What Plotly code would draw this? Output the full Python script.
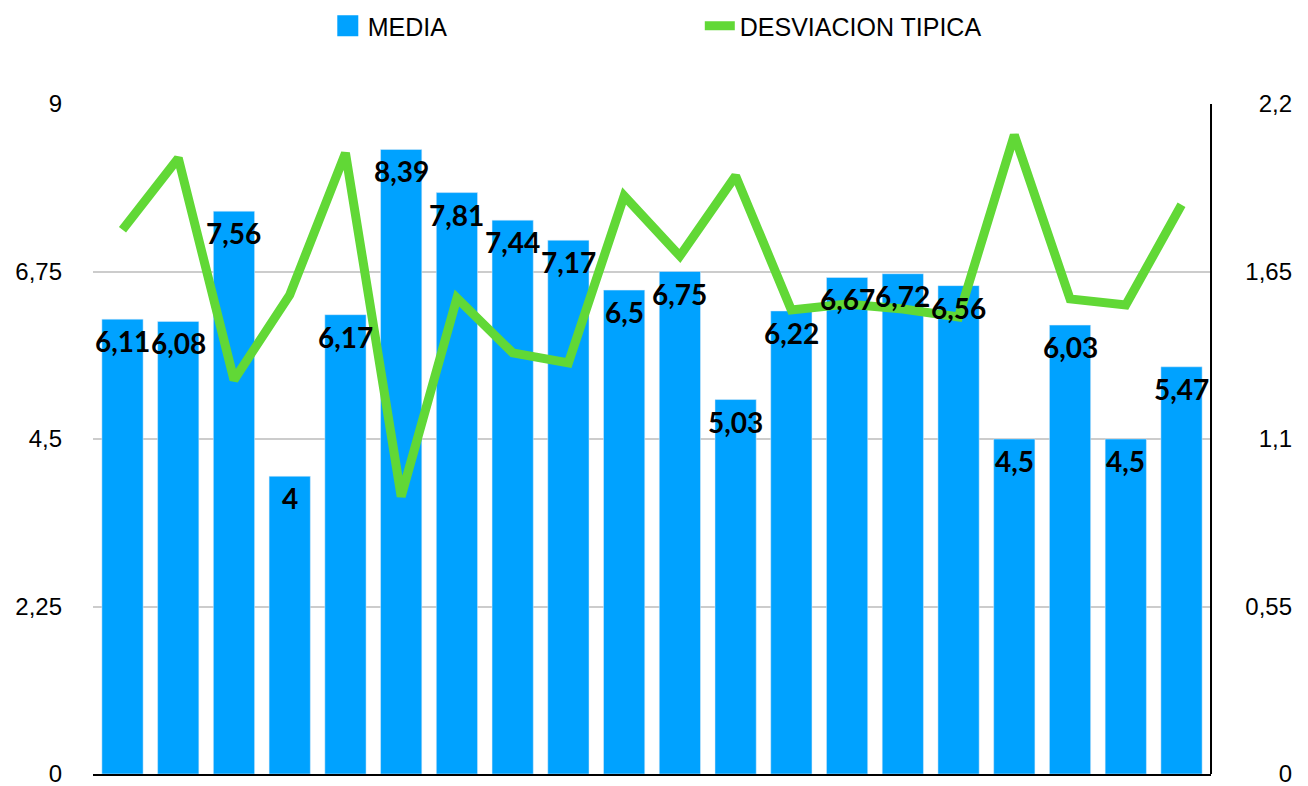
import plotly.graph_objects as go

categories = [f"C{i}" for i in range(1, 21)]
media = [6.11, 6.08, 7.56, 4, 6.17, 8.39, 7.81, 7.44, 7.17, 6.5,
         6.75, 5.03, 6.22, 6.67, 6.72, 6.56, 4.5, 6.03, 4.5, 5.47]
desviacion = [1.787, 2.022, 1.294, 1.573, 2.039, 0.911, 1.563, 1.383, 1.350, 1.898,
              1.701, 1.964, 1.524, 1.543, 1.527, 1.501, 2.098, 1.560, 1.540, 1.869]

BLUE = "#00A2FF"
GREEN = "#61D836"


def fmt(v):
    return f"{v:g}".replace(".", ",")


fig = go.Figure()
fig.add_trace(go.Bar(x=categories, y=media, marker_color=BLUE, name="MEDIA",
                     showlegend=False, hoverinfo="skip"))
fig.add_trace(go.Scatter(x=[None], y=[None], mode="markers", name="MEDIA",
                         marker=dict(symbol="square", size=26, color=BLUE,
                                     line=dict(color=BLUE, width=5))))
fig.add_trace(go.Scatter(x=categories, y=desviacion, yaxis="y2", mode="lines",
                         name="DESVIACION TIPICA",
                         line=dict(color=GREEN, width=9)))

annotations = [
    dict(x=c, y=v, xref="x", yref="y", text=fmt(v), showarrow=False,
         yanchor="top", xanchor="center", yshift=-3,
         font=dict(family="Lato", size=28, color="black", weight="bold"))
    for c, v in zip(categories, media)
]

fig.update_layout(
    width=1292, height=778,
    margin=dict(l=85, r=6, t=96, b=12, pad=0, autoexpand=False),
    paper_bgcolor="white", plot_bgcolor="white",
    separators=",.",
    bargap=0.26,
    font=dict(family="Liberation Sans", size=24, color="black"),
    xaxis=dict(domain=[0, 0.9309], type="category", showticklabels=False,
               ticks="", showgrid=False, showline=True, linecolor="black",
               linewidth=2, zeroline=False, automargin=False),
    yaxis=dict(range=[0, 9], tick0=0, dtick=2.25, showgrid=True,
               gridcolor="#CCCCCC", gridwidth=1.5, zeroline=False,
               showline=False, ticks="", ticklabelstandoff=30,
               ticklabeloverflow="allow",
               tickfont=dict(size=24), automargin=False),
    yaxis2=dict(range=[0, 2.2], tick0=0, dtick=0.55, overlaying="y",
                anchor="free", position=1, side="left", showgrid=False,
                zeroline=False, showline=False, ticks="",
                ticklabelstandoff=2, ticklabeloverflow="allow",
                tickfont=dict(size=24), automargin=False),
    legend=dict(orientation="h", x=0.1955, xanchor="left", y=1.1164,
                yanchor="middle", font=dict(size=25), entrywidth=327,
                bgcolor="rgba(0,0,0,0)"),
    annotations=annotations,
    shapes=[dict(type="line", xref="x domain", yref="y domain", x0=1, x1=1,
                 y0=0, y1=1, line=dict(color="black", width=2), layer="above")],
)

fig.write_html("out.html")
